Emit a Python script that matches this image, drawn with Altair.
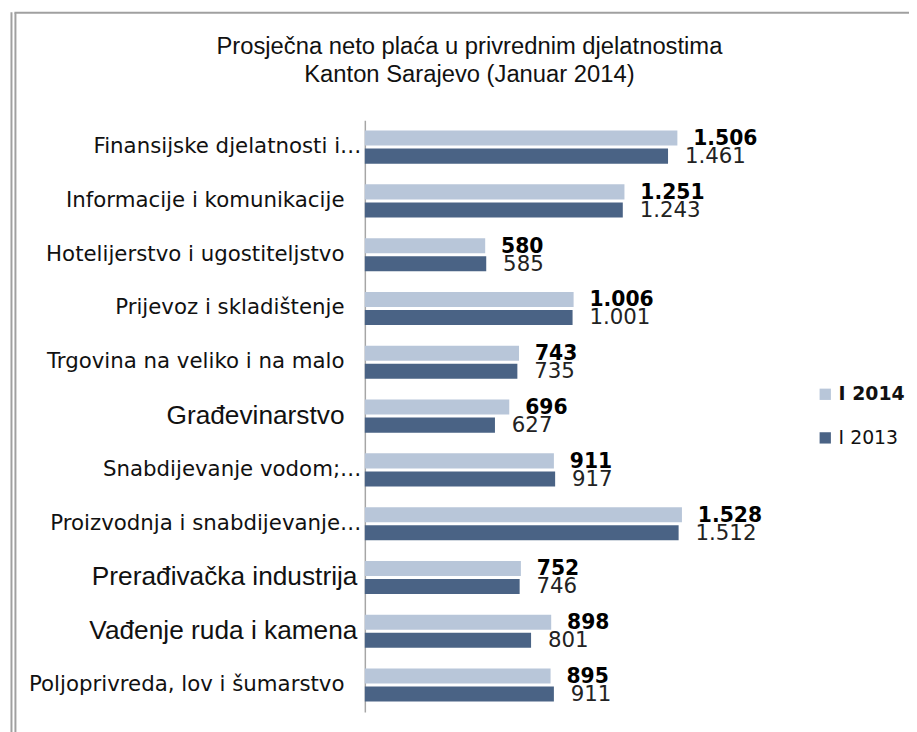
import altair as alt
import pandas as pd

categories = [
    "Finansijske djelatnosti i…",
    "Informacije i komunikacije",
    "Hotelijerstvo i ugostiteljstvo",
    "Prijevoz i skladištenje",
    "Trgovina na veliko i na malo",
    "Građevinarstvo",
    "Snabdijevanje vodom;…",
    "Proizvodnja i snabdijevanje…",
    "Prerađivačka industrija",
    "Vađenje ruda i kamena",
    "Poljoprivreda, lov i šumarstvo",
]
series = ["I 2014", "I 2013"]
values_2014 = [1506, 1251, 580, 1006, 743, 696, 911, 1528, 752, 898, 895]
values_2013 = [1461, 1243, 585, 1001, 735, 627, 917, 1512, 746, 801, 911]
colors = ["#b8c6d9", "#4a6385"]
big_labels = ["Građevinarstvo", "Prerađivačka industrija", "Vađenje ruda i kamena"]

rows = []
for c, a, b in zip(categories, values_2014, values_2013):
    rows.append({"cat": c, "series": series[0], "value": a})
    rows.append({"cat": c, "series": series[1], "value": b})
df = pd.DataFrame(rows)
df["label"] = df["value"].map(lambda v: f"{v:,}".replace(",", "."))

W, H = 335, 597

big_test = " || ".join([f"datum.value == '{b}'" for b in big_labels])
trunc_test = "indexof(datum.value, '…') >= 0"
mid_test = "datum.value == 'Prerađivačka industrija' || datum.value == 'Vađenje ruda i kamena'"

y_enc = alt.Y(
    "cat:N",
    sort=categories,
    title=None,
    scale=alt.Scale(paddingInner=0, paddingOuter=0),
    axis=alt.Axis(
        ticks=False,
        domainColor="#a6a6a6",
        domainWidth=1.5,
        labelColor="#111111",
        labelPadding={"condition": [
            {"test": trunc_test, "value": 4},
            {"test": mid_test, "value": 8},
        ], "value": 21},
        labelLimit=400,
        labelFont={"condition": {"test": big_test, "value": "Liberation Sans"}, "value": "DejaVu Sans"},
        labelFontSize={"condition": {"test": big_test, "value": 26.5}, "value": 21.5},
    ),
)
yoff = alt.YOffset(
    "series:N",
    sort=series,
    scale=alt.Scale(paddingInner=0.167, paddingOuter=0.573),
)
x_enc = alt.X("value:Q", scale=alt.Scale(domain=[0, 1600]), axis=None)

bars = alt.Chart(df).mark_bar().encode(
    y=y_enc,
    yOffset=yoff,
    x=x_enc,
    color=alt.Color(
        "series:N",
        sort=series,
        scale=alt.Scale(domain=series, range=colors),
        legend=alt.Legend(
            title=None,
            orient="none",
            legendX=455,
            legendY=267,
            symbolType="square",
            symbolSize=130,
            symbolStrokeWidth=0,
            labelFontSize=19,
            labelFont="DejaVu Sans",
            labelColor="#111111",
            labelFontWeight=alt.ExprRef("datum.value == 'I 2014' ? 'bold' : 'normal'"),
            rowPadding=24,
            labelOffset=4,
        ),
    ),
)

text14 = alt.Chart(df).transform_filter(alt.datum.series == series[0]).mark_text(
    align="left", baseline="middle", dx=16, dy=1, fontSize=20.5, font="DejaVu Sans",
    fontWeight="bold", color="#000000",
).encode(y=y_enc, yOffset=yoff, x=x_enc, text="label:N")

text13 = alt.Chart(df).transform_filter(alt.datum.series == series[1]).mark_text(
    align="left", baseline="middle", dx=17, dy=1, fontSize=21.5, font="DejaVu Sans",
    color="#222222",
).encode(y=y_enc, yOffset=yoff, x=x_enc, text="label:N")

one = pd.DataFrame({"a": [0]})
frame_style = dict(color="#a0a0a0", strokeWidth=2)
frame_left = alt.Chart(one).mark_rule(**frame_style).encode(
    x=alt.value(-352.5), y=alt.value(-108.5), y2=alt.value(620))
frame_left2 = alt.Chart(one).mark_rule(**frame_style).encode(
    x=alt.value(-356.5), y=alt.value(-109), y2=alt.value(620))
frame_top = alt.Chart(one).mark_rule(**frame_style).encode(
    x=alt.value(-353.5), x2=alt.value(560), y=alt.value(-108.5))

chart = alt.layer(frame_left, frame_left2, frame_top, bars, text14, text13).properties(
    width=W,
    height=H,
    title=alt.TitleParams(
        text=["Prosječna neto plaća u privrednim djelatnostima", "Kanton Sarajevo (Januar 2014)"],
        font="Liberation Sans",
        fontSize=24,
        fontWeight="normal",
        color="#111111",
        anchor="middle",
        frame="group",
        dx=-62,
        dy=76.5,
        lineHeight=28,
        offset=0,
    ),
    autosize=alt.AutoSizeParams(type="none"),
    padding={"left": 360, "top": 110, "right": 214, "bottom": 17},
).configure_view(strokeWidth=0, stroke="transparent")

chart.save("out.html", embed_options={"renderer": "svg", "actions": False})
